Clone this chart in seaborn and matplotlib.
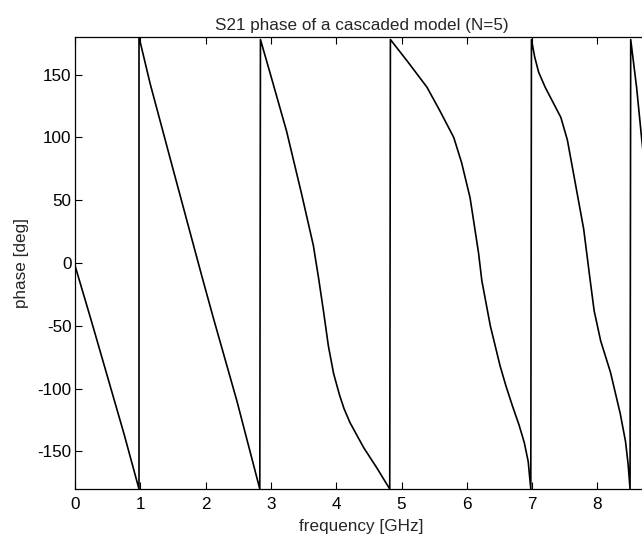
import matplotlib
matplotlib.use("Agg")
import matplotlib.pyplot as plt
import seaborn as sns
import pandas as pd

# frequency [GHz] and wrapped S21 phase [deg]
freq = [0.00, 0.25, 0.50, 0.75, 0.98,
        0.98, 1.15, 1.50, 1.94, 2.12, 2.48, 2.83,
        2.84, 3.00, 3.24, 3.47, 3.65, 3.73, 3.81, 3.88, 3.96, 4.05, 4.12,
        4.21, 4.42, 4.62, 4.82,
        4.83, 5.10, 5.39, 5.59, 5.80, 5.92, 6.05, 6.18, 6.23, 6.36, 6.51,
        6.60, 6.70, 6.80, 6.88, 6.94, 6.98,
        6.99, 7.04, 7.10, 7.20, 7.32, 7.44, 7.54, 7.66, 7.79, 7.88, 7.95,
        8.05, 8.20, 8.35, 8.43, 8.47, 8.50,
        8.51, 8.60, 8.68, 8.80]
phase = [-2, -46, -91, -136, -180,
         180, 143, 75, -10, -44, -110, -180,
         178, 149, 105, 55, 14, -12, -40, -66, -88, -105, -116,
         -127, -147, -163, -180,
         178, 160, 140, 121, 100, 80, 52, 8, -14, -50, -82,
         -98, -114, -129, -143, -158, -180,
         178, 164, 152, 140, 128, 116, 98, 64, 27, -10, -38,
         -62, -87, -120, -142, -160, -180,
         178, 140, 98, 40]

xticks = [0, 1, 2, 3, 4, 5, 6, 7, 8]
yticks = [-150, -100, -50, 0, 50, 100, 150]

df = pd.DataFrame({"frequency": freq, "phase": phase})

sns.set_theme(style="white")
plt.rcParams["font.family"] = ["Liberation Sans", "DejaVu Sans"]
plt.rcParams["axes.unicode_minus"] = False

W, H = 642, 540
fig = plt.figure(figsize=(W / 100, H / 100), dpi=100)
left, right, top, bottom = 75, 648, 37, 489
ax = fig.add_axes([left / W, 1 - bottom / H, (right - left) / W, (bottom - top) / H])

sns.lineplot(data=df, x="frequency", y="phase", ax=ax, sort=False,
             estimator=None, color="black", linewidth=1.2)

ax.set_xlim(0, (right - left) / 65.3)
ax.set_ylim(-180, 180)
ax.set_xticks(xticks)
ax.set_yticks(yticks)
ax.tick_params(direction="in", length=5, width=0.8, colors="black",
               labelsize=12.3, top=True, right=False, bottom=True, left=True)
ax.tick_params(axis="x", pad=6)
ax.tick_params(axis="y", pad=2.5)
for s in ax.spines.values():
    s.set_visible(True)
    s.set_color("black")
    s.set_linewidth(0.9)
ax.set_title("S21 phase of a cascaded model (N=5)", fontsize=12.3, pad=5)
ax.set_xlabel("frequency [GHz]", fontsize=12.3, labelpad=5)
ax.set_ylabel("phase [deg]", fontsize=12.3, labelpad=6)
ax.grid(False)

fig.savefig("out.png", dpi=100)
